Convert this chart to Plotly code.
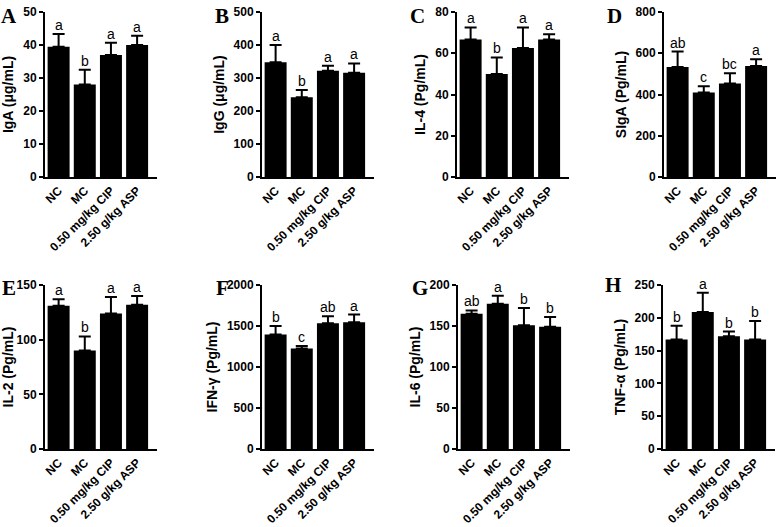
import plotly.graph_objects as go

categories = ["NC", "MC", "0.50 mg/kg CIP", "2.50 g/kg ASP"]

panel_labels = ["A", "B", "C", "D", "E", "F", "G", "H"]
y_titles = ["IgA (μg/mL)", "IgG (μg/mL)", "IL-4 (Pg/mL)", "SIgA (Pg/mL)",
            "IL-2 (Pg/mL)", "IFN-γ (Pg/mL)", "IL-6 (Pg/mL)", "TNF-α (Pg/mL)"]
y_max = [50, 500, 80, 800, 150, 2000, 200, 250]
y_dtick = [10, 100, 20, 200, 50, 500, 50, 50]

iga_mean = [39.5, 28.0, 37.0, 40.0]
iga_err = [3.8, 4.5, 3.7, 2.8]
iga_sig = ["a", "b", "a", "a"]

igg_mean = [348, 242, 322, 316]
igg_err = [52, 22, 15, 28]
igg_sig = ["a", "b", "a", "a"]

il4_mean = [66.7, 50.0, 62.5, 66.7]
il4_err = [5.8, 8.0, 10.0, 2.5]
il4_sig = ["a", "b", "a", "a"]

siga_mean = [533, 410, 453, 538]
siga_err = [75, 30, 50, 33]
siga_sig = ["ab", "c", "bc", "a"]

il2_mean = [131, 90, 124, 132]
il2_err = [6, 13, 15, 8]
il2_sig = ["a", "b", "a", "a"]

ifng_mean = [1395, 1225, 1535, 1545]
ifng_err = [105, 30, 85, 95]
ifng_sig = ["b", "c", "ab", "a"]

il6_mean = [165, 177, 151, 149]
il6_err = [4, 10, 21, 12]
il6_sig = ["ab", "a", "b", "b"]

tnfa_mean = [167, 209, 172, 167]
tnfa_err = [21, 29, 7, 28]
tnfa_sig = ["b", "a", "b", "b"]

means = [iga_mean, igg_mean, il4_mean, siga_mean, il2_mean, ifng_mean, il6_mean, tnfa_mean]
errs = [iga_err, igg_err, il4_err, siga_err, il2_err, ifng_err, il6_err, tnfa_err]
sigs = [iga_sig, igg_sig, il4_sig, siga_sig, il2_sig, ifng_sig, il6_sig, tnfa_sig]

W, H = 777, 527
col_left = [[45, 262, 457, 664], [45, 262, 458, 663]]
plot_w = 112
row_px = [(12, 177), (285, 449)]
label_pos = [(9, 16), (222, 16), (418, 16), (614, 16),
             (9, 288), (222, 288), (420, 288), (613, 285)]


def fx(px):
    return px / W


def fy(py):
    return 1 - py / H


fig = go.Figure()
annotations = []
layout = {}
for i in range(8):
    r, c = divmod(i, 4)
    n = "" if i == 0 else str(i + 1)
    xa, ya = "x" + n, "y" + n
    left = col_left[r][c]
    top, bot = row_px[r]
    fig.add_trace(go.Bar(
        x=categories, y=means[i], xaxis=xa, yaxis=ya,
        marker=dict(color="black", line=dict(width=0)),
        width=0.84,
        error_y=dict(type="data", array=errs[i], arrayminus=[0] * 4,
                     symmetric=False, color="black", thickness=2, width=6),
        showlegend=False,
    ))
    layout["xaxis" + n] = dict(
        domain=[max(0, fx(left)), min(1, fx(left + plot_w))], anchor=ya,
        type="category", range=[-0.52, 3.76], automargin=False,
        showline=True, linecolor="black", linewidth=2,
        ticks="", tickangle=-45, showgrid=False, zeroline=False,
        tickfont=dict(family="Liberation Sans", size=12, color="black", weight="bold"),
        fixedrange=True,
    )
    layout["yaxis" + n] = dict(
        domain=[fy(bot), fy(top)], anchor=xa, automargin=False,
        range=[0, y_max[i]], dtick=y_dtick[i], tick0=0,
        showline=True, linecolor="black", linewidth=2,
        ticks="outside", ticklen=4, tickwidth=2, tickcolor="black",
        showgrid=False, zeroline=False, ticklabeloverflow="allow",
        tickfont=dict(family="Liberation Sans", size=12, color="black", weight="bold"),
        title=dict(text=y_titles[i], standoff=6,
                   font=dict(family="Liberation Sans", size=14, color="black", weight="bold")),
        fixedrange=True,
    )
    for k in range(4):
        annotations.append(dict(
            x=categories[k], y=means[i][k] + errs[i][k], xref=xa, yref=ya,
            text=sigs[i][k], showarrow=False, yanchor="bottom", yshift=-1,
            font=dict(family="Liberation Sans", size=14, color="black"),
        ))
    lx, ly = label_pos[i]
    annotations.append(dict(
        x=fx(lx), y=fy(ly), xref="paper", yref="paper",
        text=panel_labels[i], showarrow=False, xanchor="center", yanchor="middle",
        font=dict(family="Liberation Serif", size=21, color="black", weight="bold"),
    ))

fig.update_layout(
    width=W, height=H, margin=dict(l=0, r=0, t=0, b=0, autoexpand=False),
    paper_bgcolor="white", plot_bgcolor="white",
    annotations=annotations,
    **layout,
)
fig.write_html(
    "out.html",
    config={"displayModeBar": False},
    post_script="document.body.style.margin='0px';document.body.style.overflow='hidden';",
)
